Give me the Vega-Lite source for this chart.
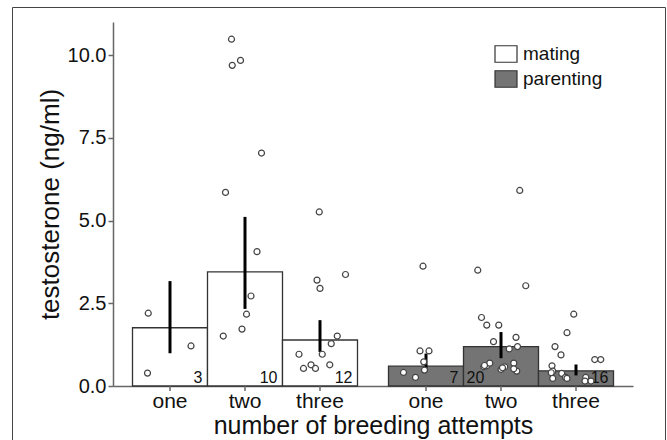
{
  "$schema": "https://vega.github.io/schema/vega-lite/v6.json",
  "width": 653,
  "height": 433,
  "autosize": "none",
  "padding": {"left": 12, "top": 7, "right": 2, "bottom": 0},
  "background": "white",
  "config": {
    "font": "Liberation Sans",
    "view": {"stroke": "#444", "strokeWidth": 1},
    "axis": {"grid": false, "domainColor": "#666", "domainWidth": 1.5, "tickColor": "#666", "tickWidth": 1.5, "labelColor": "#111", "titleColor": "#111", "titleFontWeight": "normal", "labelFont": "Liberation Sans", "titleFont": "Liberation Sans"},
    "legend": {"labelFont": "Liberation Sans"}
  },
  "datasets": {
    "bars": [
      {"group": "mating", "attempts": "one", "mean": 1.76, "lo": 0.99, "hi": 3.17, "n": 3},
      {"group": "mating", "attempts": "two", "mean": 3.45, "lo": 2.33, "hi": 5.11, "n": 10},
      {"group": "mating", "attempts": "three", "mean": 1.39, "lo": 1.03, "hi": 1.99, "n": 12},
      {"group": "parenting", "attempts": "one", "mean": 0.60, "lo": 0.42, "hi": 0.98, "n": 7},
      {"group": "parenting", "attempts": "two", "mean": 1.19, "lo": 0.84, "hi": 1.63, "n": 20},
      {"group": "parenting", "attempts": "three", "mean": 0.46, "lo": 0.32, "hi": 0.65, "n": 16}
    ],
    "points": [
      {"group": "mating", "attempts": "one", "value": 2.20, "jitter": -0.29},
      {"group": "mating", "attempts": "one", "value": 1.21, "jitter": 0.28},
      {"group": "mating", "attempts": "one", "value": 0.39, "jitter": -0.30},
      {"group": "mating", "attempts": "two", "value": 10.48, "jitter": -0.18},
      {"group": "mating", "attempts": "two", "value": 9.69, "jitter": -0.17},
      {"group": "mating", "attempts": "two", "value": 9.84, "jitter": -0.06},
      {"group": "mating", "attempts": "two", "value": 7.04, "jitter": 0.22},
      {"group": "mating", "attempts": "two", "value": 5.85, "jitter": -0.26},
      {"group": "mating", "attempts": "two", "value": 4.06, "jitter": 0.16},
      {"group": "mating", "attempts": "two", "value": 2.72, "jitter": 0.08},
      {"group": "mating", "attempts": "two", "value": 2.17, "jitter": 0.02},
      {"group": "mating", "attempts": "two", "value": 1.72, "jitter": -0.04},
      {"group": "mating", "attempts": "two", "value": 1.51, "jitter": -0.29},
      {"group": "mating", "attempts": "three", "value": 5.26, "jitter": -0.01},
      {"group": "mating", "attempts": "three", "value": 3.20, "jitter": -0.04},
      {"group": "mating", "attempts": "three", "value": 2.95, "jitter": 0.0},
      {"group": "mating", "attempts": "three", "value": 3.37, "jitter": 0.34},
      {"group": "mating", "attempts": "three", "value": 1.51, "jitter": 0.23},
      {"group": "mating", "attempts": "three", "value": 1.28, "jitter": 0.15},
      {"group": "mating", "attempts": "three", "value": 0.96, "jitter": -0.28},
      {"group": "mating", "attempts": "three", "value": 0.96, "jitter": 0.03},
      {"group": "mating", "attempts": "three", "value": 0.64, "jitter": -0.12},
      {"group": "mating", "attempts": "three", "value": 0.53, "jitter": -0.22},
      {"group": "mating", "attempts": "three", "value": 0.53, "jitter": -0.06},
      {"group": "mating", "attempts": "three", "value": 0.64, "jitter": 0.13},
      {"group": "parenting", "attempts": "one", "value": 3.62, "jitter": -0.04},
      {"group": "parenting", "attempts": "one", "value": 1.06, "jitter": -0.08},
      {"group": "parenting", "attempts": "one", "value": 1.06, "jitter": 0.04},
      {"group": "parenting", "attempts": "one", "value": 0.73, "jitter": -0.03},
      {"group": "parenting", "attempts": "one", "value": 0.48, "jitter": -0.02},
      {"group": "parenting", "attempts": "one", "value": 0.41, "jitter": -0.30},
      {"group": "parenting", "attempts": "one", "value": 0.26, "jitter": -0.14},
      {"group": "parenting", "attempts": "two", "value": 5.91, "jitter": 0.25},
      {"group": "parenting", "attempts": "two", "value": 3.50, "jitter": -0.31},
      {"group": "parenting", "attempts": "two", "value": 3.03, "jitter": 0.33},
      {"group": "parenting", "attempts": "two", "value": 2.07, "jitter": -0.26},
      {"group": "parenting", "attempts": "two", "value": 1.84, "jitter": -0.19},
      {"group": "parenting", "attempts": "two", "value": 1.84, "jitter": -0.03},
      {"group": "parenting", "attempts": "two", "value": 1.34, "jitter": -0.10},
      {"group": "parenting", "attempts": "two", "value": 1.47, "jitter": 0.20},
      {"group": "parenting", "attempts": "two", "value": 1.19, "jitter": 0.22},
      {"group": "parenting", "attempts": "two", "value": 1.12, "jitter": 0.11},
      {"group": "parenting", "attempts": "two", "value": 0.58, "jitter": -0.23},
      {"group": "parenting", "attempts": "two", "value": 0.61, "jitter": -0.19},
      {"group": "parenting", "attempts": "two", "value": 0.69, "jitter": -0.15},
      {"group": "parenting", "attempts": "two", "value": 0.50, "jitter": 0.0},
      {"group": "parenting", "attempts": "two", "value": 0.58, "jitter": 0.05},
      {"group": "parenting", "attempts": "two", "value": 0.69, "jitter": 0.17},
      {"group": "parenting", "attempts": "two", "value": 0.45, "jitter": 0.21},
      {"group": "parenting", "attempts": "two", "value": 0.55, "jitter": 0.02},
      {"group": "parenting", "attempts": "two", "value": 0.62, "jitter": -0.22},
      {"group": "parenting", "attempts": "two", "value": 0.52, "jitter": 0.17},
      {"group": "parenting", "attempts": "three", "value": 2.17, "jitter": -0.03},
      {"group": "parenting", "attempts": "three", "value": 1.61, "jitter": -0.12},
      {"group": "parenting", "attempts": "three", "value": 1.19, "jitter": -0.28},
      {"group": "parenting", "attempts": "three", "value": 0.94, "jitter": -0.20},
      {"group": "parenting", "attempts": "three", "value": 0.80, "jitter": 0.25},
      {"group": "parenting", "attempts": "three", "value": 0.80, "jitter": 0.33},
      {"group": "parenting", "attempts": "three", "value": 0.61, "jitter": -0.32},
      {"group": "parenting", "attempts": "three", "value": 0.45, "jitter": -0.31},
      {"group": "parenting", "attempts": "three", "value": 0.40, "jitter": -0.33},
      {"group": "parenting", "attempts": "three", "value": 0.23, "jitter": -0.31},
      {"group": "parenting", "attempts": "three", "value": 0.38, "jitter": -0.19},
      {"group": "parenting", "attempts": "three", "value": 0.26, "jitter": -0.14},
      {"group": "parenting", "attempts": "three", "value": 0.23, "jitter": -0.12},
      {"group": "parenting", "attempts": "three", "value": 0.26, "jitter": 0.13},
      {"group": "parenting", "attempts": "three", "value": 0.15, "jitter": 0.12},
      {"group": "parenting", "attempts": "three", "value": 0.15, "jitter": 0.20}
    ]
  },
  "resolve": {"scale": {"xOffset": "independent"}},
  "layer": [
    {
      "data": {"name": "bars"},
      "mark": {"type": "bar", "stroke": "#333", "strokeWidth": 1.3},
      "encoding": {
        "x": {"field": "group", "type": "nominal",
              "scale": {"domain": ["mating", "parenting"], "range": [101, 621], "paddingInner": 0.12109375, "paddingOuter": 0.076171875},
              "axis": {"title": "number of breeding attempts", "labels": false, "ticks": false, "offset": -54, "titleFontSize": 25, "titlePadding": 27}},
        "xOffset": {"field": "attempts", "type": "nominal", "scale": {"type": "band", "domain": ["one", "two", "three"], "paddingInner": 0, "paddingOuter": 0}},
        "y": {"field": "mean", "type": "quantitative",
              "scale": {"domain": [0, 11], "range": [379, 15], "nice": false, "zero": false},
              "axis": {"title": "testosterone (ng/ml)", "values": [0, 2.5, 5, 7.5, 10], "format": ".1f", "offset": -101, "tickSize": 5, "labelFontSize": 20, "labelPadding": 2, "titleFontSize": 26, "titlePadding": 4}},
        "fill": {"field": "group", "type": "nominal",
                 "scale": {"domain": ["mating", "parenting"], "range": ["#ffffff", "#747474"]},
                 "legend": {"orient": "none", "legendX": 482, "legendY": 35, "title": null, "symbolType": "M-1,-0.75H1V0.75H-1Z", "symbolSize": 484, "symbolStrokeColor": "#333", "symbolStrokeWidth": 1.2, "labelFontSize": 19, "labelOffset": 5, "rowPadding": 2, "labelColor": "#111"}}
      }
    },
    {
      "data": {"name": "bars"},
      "mark": {"type": "rule", "color": "#666", "strokeWidth": 1.5},
      "encoding": {
        "x": {"field": "group", "type": "nominal"},
        "xOffset": {"field": "attempts", "type": "nominal", "scale": {"type": "band", "domain": ["one", "two", "three"], "paddingInner": 0, "paddingOuter": 0}},
        "y": {"datum": 0},
        "y2": {"datum": -0.15}
      }
    },
    {
      "data": {"name": "bars"},
      "mark": {"type": "text", "baseline": "alphabetic", "dy": 22, "fontSize": 21, "color": "#111"},
      "encoding": {
        "x": {"field": "group", "type": "nominal"},
        "xOffset": {"field": "attempts", "type": "nominal", "scale": {"type": "band", "domain": ["one", "two", "three"], "paddingInner": 0, "paddingOuter": 0}},
        "y": {"datum": 0},
        "text": {"field": "attempts"}
      }
    },
    {
      "data": {"name": "bars"},
      "mark": {"type": "rule", "color": "#000", "strokeWidth": 3},
      "encoding": {
        "x": {"field": "group", "type": "nominal"},
        "xOffset": {"field": "attempts", "type": "nominal", "scale": {"type": "band", "domain": ["one", "two", "three"], "paddingInner": 0, "paddingOuter": 0}},
        "y": {"field": "lo", "type": "quantitative"},
        "y2": {"field": "hi"}
      }
    },
    {
      "data": {"name": "bars"},
      "transform": [{"filter": "!(datum.group == 'parenting' && datum.attempts == 'two')"}],
      "mark": {"type": "text", "align": "right", "baseline": "alphabetic", "dx": 32.5, "dy": -3.5, "fontSize": 16, "color": "#111"},
      "encoding": {
        "x": {"field": "group", "type": "nominal"},
        "xOffset": {"field": "attempts", "type": "nominal", "scale": {"type": "band", "domain": ["one", "two", "three"], "paddingInner": 0, "paddingOuter": 0}},
        "y": {"datum": 0},
        "text": {"field": "n"}
      }
    },
    {
      "data": {"name": "bars"},
      "transform": [{"filter": "datum.group == 'parenting' && datum.attempts == 'two'"}],
      "mark": {"type": "text", "align": "left", "baseline": "alphabetic", "dx": -34.5, "dy": -3.5, "fontSize": 16, "color": "#111"},
      "encoding": {
        "x": {"field": "group", "type": "nominal"},
        "xOffset": {"field": "attempts", "type": "nominal", "scale": {"type": "band", "domain": ["one", "two", "three"], "paddingInner": 0, "paddingOuter": 0}},
        "y": {"datum": 0},
        "text": {"field": "n"}
      }
    },
    {
      "data": {"name": "points"},
      "transform": [{"filter": "datum.attempts == 'one'"}],
      "mark": {"type": "circle", "fill": "white", "stroke": "#444", "strokeWidth": 1.2, "size": 36, "opacity": 1},
      "encoding": {
        "x": {"field": "group", "type": "nominal"},
        "xOffset": {"field": "jitter", "type": "quantitative", "scale": {"domain": [-0.5, 0.5], "range": [0, 75]}},
        "y": {"field": "value", "type": "quantitative"}
      }
    },
    {
      "data": {"name": "points"},
      "transform": [{"filter": "datum.attempts == 'two'"}],
      "mark": {"type": "circle", "fill": "white", "stroke": "#444", "strokeWidth": 1.2, "size": 36, "opacity": 1},
      "encoding": {
        "x": {"field": "group", "type": "nominal"},
        "xOffset": {"field": "jitter", "type": "quantitative", "scale": {"domain": [-0.5, 0.5], "range": [75, 150]}},
        "y": {"field": "value", "type": "quantitative"}
      }
    },
    {
      "data": {"name": "points"},
      "transform": [{"filter": "datum.attempts == 'three'"}],
      "mark": {"type": "circle", "fill": "white", "stroke": "#444", "strokeWidth": 1.2, "size": 36, "opacity": 1},
      "encoding": {
        "x": {"field": "group", "type": "nominal"},
        "xOffset": {"field": "jitter", "type": "quantitative", "scale": {"domain": [-0.5, 0.5], "range": [150, 225]}},
        "y": {"field": "value", "type": "quantitative"}
      }
    }
  ]
}
